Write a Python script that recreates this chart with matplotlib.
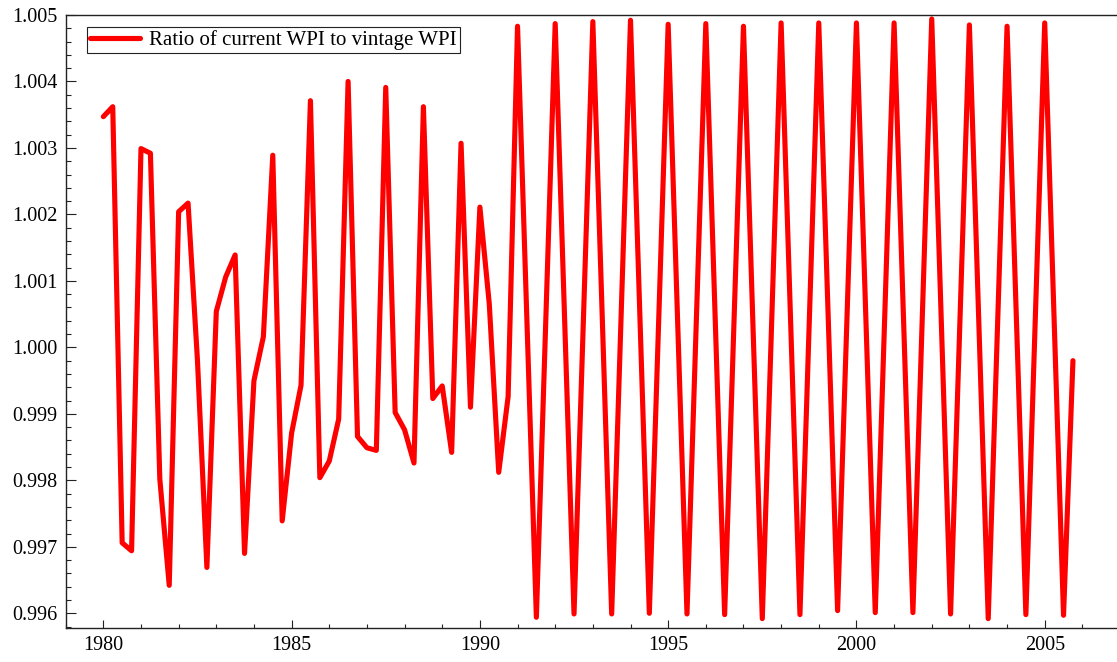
import numpy as np
import matplotlib
matplotlib.use('Agg')
import matplotlib.pyplot as plt
from matplotlib.ticker import MultipleLocator, FormatStrFormatter

plt.rcParams['font.family'] = ['Liberation Serif', 'DejaVu Serif']
plt.rcParams['font.size'] = 14.5

# quarterly observations, 1980Q1 - 2005Q4
years = np.arange(1980, 2006, 0.25)

# 1980 - 1990
ratio_early = [
    1.00347, 1.00362, 0.99706, 0.99694, 1.00299, 1.00292, 0.99802, 0.99642,
    1.00204, 1.00217, 0.99980, 0.99669, 1.00054, 1.00106, 1.00139, 0.99690,
    0.99950, 1.00016, 1.00289, 0.99739, 0.99871, 0.99943, 1.00371, 0.99804,
    0.99829, 0.99892, 1.00400, 0.99866, 0.99849, 0.99845, 1.00391, 0.99902,
    0.99876, 0.99826, 1.00362, 0.99923, 0.99942, 0.99842, 1.00307, 0.99910,
    1.00211, 1.00065, 0.99812, 0.99926,
]
# 1991 - 2005
ratio_late = [
    1.00483, 1.00039, 0.99594, 1.00040,
    1.00487, 1.00043, 0.99599, 1.00043,
    1.00490, 1.00045, 0.99599, 1.00046,
    1.00492, 1.00046, 0.99600, 1.00043,
    1.00486, 1.00042, 0.99599, 1.00043,
    1.00487, 1.00042, 0.99598, 1.00041,
    1.00483, 1.00037, 0.99592, 1.00040,
    1.00488, 1.00043, 0.99598, 1.00043,
    1.00488, 1.00046, 0.99604, 1.00046,
    1.00488, 1.00045, 0.99601, 1.00044,
    1.00488, 1.00044, 0.99601, 1.00047,
    1.00494, 1.00046, 0.99599, 1.00042,
    1.00485, 1.00038, 0.99592, 1.00037,
    1.00483, 1.00040, 0.99598, 1.00043,
    1.00488, 1.00042, 0.99597, 0.99980,
]
ratio = ratio_early + ratio_late

fig = plt.figure(figsize=(11.17, 6.62), dpi=100)
ax = fig.add_axes([0.0588, 0.0518, 0.9439, 0.9256])

ax.plot(years, ratio, color='#ff0000', lw=3.7, solid_joinstyle='round',
        solid_capstyle='round', label='Ratio of current WPI to vintage WPI')

ax.set_xlim(1979, 2007)
ax.set_ylim(0.995783, 1.005)

ax.xaxis.set_major_locator(MultipleLocator(5))
ax.xaxis.set_minor_locator(MultipleLocator(1))
ax.xaxis.set_major_formatter(FormatStrFormatter('%d'))
ax.yaxis.set_major_locator(MultipleLocator(0.001))
ax.yaxis.set_minor_locator(MultipleLocator(0.0002))
ax.yaxis.set_major_formatter(FormatStrFormatter('%.3f'))

ax.tick_params(axis='both', which='both', direction='in', top=False, right=False,
               width=0.8, colors='#222222', labelcolor='black')
ax.tick_params(axis='y', which='major', length=7.2, pad=6)
ax.tick_params(axis='y', which='minor', length=3.8)
ax.tick_params(axis='x', which='major', length=5.8, pad=6)
ax.tick_params(axis='x', which='minor', length=3.2)

ax.spines['right'].set_visible(False)
for s in ['left', 'bottom', 'top']:
    ax.spines[s].set_linewidth(1.0)
    ax.spines[s].set_color('#222222')

leg = ax.legend(loc='upper left', bbox_to_anchor=(0.0205, 0.980), borderaxespad=0,
                fancybox=False, framealpha=1, edgecolor='#222222',
                handlelength=2.4, handletextpad=0.4, borderpad=0.15, fontsize=15.0)
leg.get_frame().set_linewidth(0.8)

fig.savefig('out.png', dpi=100)
